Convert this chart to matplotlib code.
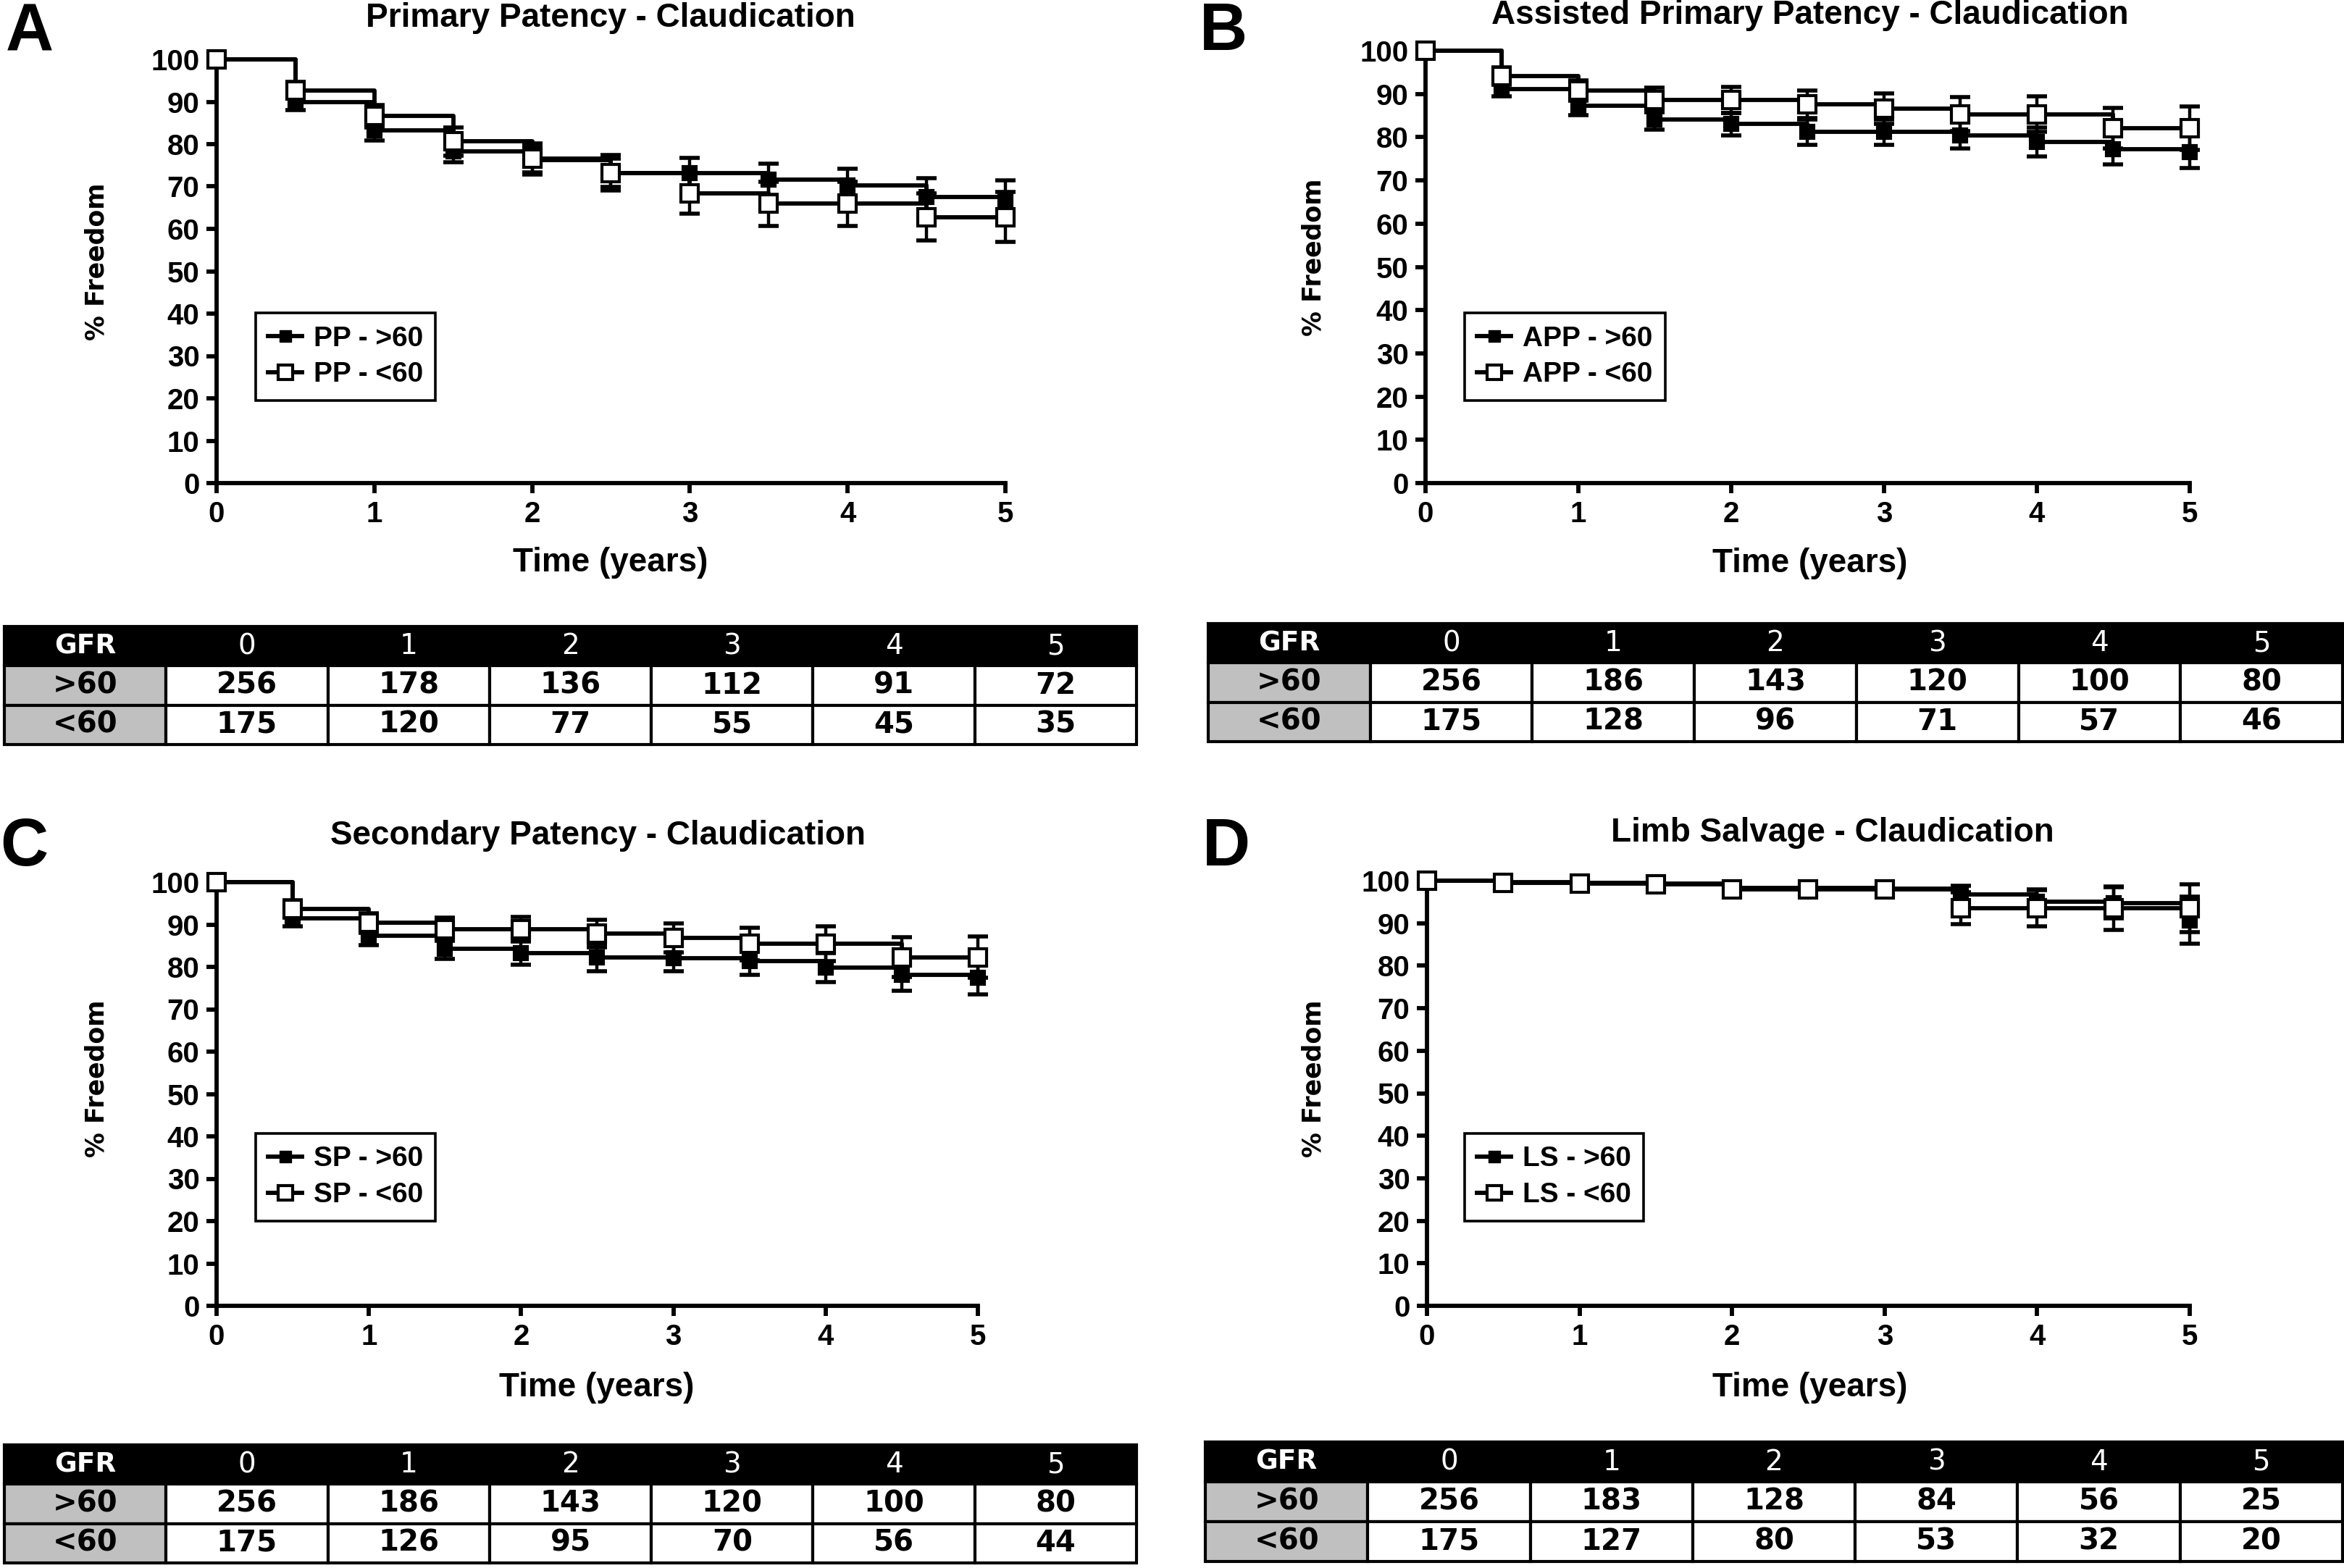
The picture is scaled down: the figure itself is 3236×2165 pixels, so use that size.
import numpy as np
import matplotlib.pyplot as plt
from matplotlib.lines import Line2D
from matplotlib.patches import Rectangle

# time points (years)
times = [0, 0.5, 1, 1.5, 2, 2.5, 3, 3.5, 4, 4.5, 5]

# A - primary patency
pp_hi = [100, 90.0, 83.2, 78.3, 76.3, 73.2, 73.1, 71.7, 70.2, 67.6, 66.8]
pp_hi_err = [0, 2.0, 2.3, 2.6, 3.0, 3.3, 3.6, 3.6, 4.0, 4.3, 4.6]
pp_lo = [100, 92.7, 86.6, 80.6, 76.5, 73.2, 68.4, 65.9, 65.9, 62.8, 62.8]
pp_lo_err = [0, 2.0, 2.7, 3.3, 3.7, 4.2, 4.8, 5.2, 5.2, 5.5, 5.9]

# B - assisted primary patency
app_hi = [100, 91.2, 87.2, 84.1, 83.0, 81.2, 81.2, 80.4, 78.9, 77.2, 76.6]
app_hi_err = [0, 1.8, 2.1, 2.4, 2.6, 2.9, 2.9, 3.0, 3.3, 3.5, 3.7]
app_lo = [100, 94.2, 90.8, 88.6, 88.6, 87.6, 86.6, 85.3, 85.3, 82.1, 82.1]
app_lo_err = [0, 2.0, 2.4, 2.8, 3.0, 3.2, 3.5, 3.9, 4.1, 4.7, 5.0]

# C - secondary patency
sp_hi = [100, 91.4, 87.3, 84.2, 83.3, 82.2, 82.1, 81.3, 79.8, 78.2, 77.5]
sp_hi_err = [0, 1.8, 2.1, 2.3, 2.8, 3.2, 3.1, 3.1, 3.4, 3.8, 4.0]
sp_lo = [100, 93.7, 90.4, 88.9, 88.9, 87.9, 86.8, 85.4, 85.4, 82.3, 82.3]
sp_lo_err = [0, 2.0, 2.3, 2.7, 2.9, 3.2, 3.4, 3.9, 4.1, 4.7, 4.9]

# D - limb salvage
ls_hi = [100, 99.7, 99.5, 99.4, 98.3, 98.3, 98.1, 96.8, 95.1, 94.8, 90.7]
ls_hi_err = [0, 0.4, 0.6, 0.7, 0.9, 1.0, 1.1, 2.0, 2.8, 3.7, 5.5]
ls_lo = [100, 99.5, 99.3, 99.2, 98.0, 98.0, 97.9, 93.5, 93.5, 93.5, 93.5]
ls_lo_err = [0, 0.5, 0.7, 0.8, 1.0, 1.1, 1.2, 3.7, 4.3, 5.1, 5.6]

# numbers at risk
table_years = ['0', '1', '2', '3', '4', '5']
risk_pp_hi = [256, 178, 136, 112, 91, 72]
risk_pp_lo = [175, 120, 77, 55, 45, 35]
risk_app_hi = [256, 186, 143, 120, 100, 80]
risk_app_lo = [175, 128, 96, 71, 57, 46]
risk_sp_hi = [256, 186, 143, 120, 100, 80]
risk_sp_lo = [175, 126, 95, 70, 56, 44]
risk_ls_hi = [256, 183, 128, 84, 56, 25]
risk_ls_lo = [175, 127, 80, 53, 32, 20]

W, H = 3237, 2165
ARIAL = ['Liberation Sans', 'DejaVu Sans']
VERD = ['DejaVu Sans']
LW = 4.2

fig = plt.figure(figsize=(W / 100, H / 100), dpi=100)


def px_rect(x0, y0, x1, y1):
    return [x0 / W, 1 - y1 / H, (x1 - x0) / W, (y1 - y0) / H]


def draw_km(rect, title, prefix, hi, hi_err, lo, lo_err, title_xy, letter, letter_xy,
            xlab_xy, ylab_xy, leg_xy):
    ax = fig.add_axes(px_rect(*rect))
    ax.set_xlim(0, 5)
    ax.set_ylim(0, 100)
    for s, e, face, ms in [(hi, hi_err, 'black', 13), (lo, lo_err, 'white', 17)]:
        ax.step(times, s, where='post', color='black', lw=LW, clip_on=False, zorder=3)
        ax.errorbar(times[1:], s[1:], yerr=e[1:], fmt='none', ecolor='black',
                    elinewidth=3.2, capsize=10, capthick=4, clip_on=False, zorder=3)
        ax.plot(times, s, ls='none', marker='s', ms=ms, mfc=face, mec='black',
                mew=3, clip_on=False, zorder=4)
    for sp in ['top', 'right']:
        ax.spines[sp].set_visible(False)
    for sp in ['left', 'bottom']:
        ax.spines[sp].set_linewidth(LW)
    ax.set_xticks(range(6))
    ax.set_yticks(range(0, 101, 10))
    ax.tick_params(length=10, width=LW, pad=7)
    for lab in ax.get_xticklabels() + ax.get_yticklabels():
        lab.set_family(ARIAL)
        lab.set_fontweight('bold')
        lab.set_fontsize(29)
    fig.text(title_xy[0] / W, 1 - title_xy[1] / H, title, ha='center', va='center',
             family=ARIAL, weight='bold', fontsize=33)
    fig.text(letter_xy[0] / W, 1 - letter_xy[1] / H, letter, ha='center', va='center',
             family=ARIAL, weight='bold', fontsize=66)
    fig.text(xlab_xy[0] / W, 1 - xlab_xy[1] / H, 'Time (years)', ha='center', va='center',
             family=ARIAL, weight='bold', fontsize=33)
    fig.text(ylab_xy[0] / W, 1 - ylab_xy[1] / H, '% Freedom', ha='center', va='center',
             rotation=90, family=VERD, weight='bold', fontsize=25)
    handles = [
        Line2D([], [], color='black', lw=LW, marker='s', ms=12, mfc='black', mec='black'),
        Line2D([], [], color='black', lw=LW, marker='s', ms=15, mfc='white', mec='black',
               mew=3),
    ]
    leg = ax.legend(handles, [prefix + ' - >60', prefix + ' - <60'], loc='upper left',
                    bbox_to_anchor=(leg_xy[0] / W, 1 - leg_xy[1] / H),
                    bbox_transform=fig.transFigure, fancybox=False, edgecolor='black',
                    framealpha=1, handlelength=1.2, handletextpad=0.4, borderpad=0.45,
                    borderaxespad=0, labelspacing=0.35,
                    prop={'family': ARIAL, 'weight': 'bold', 'size': 28})
    leg.get_frame().set_linewidth(2.6)
    return ax


def draw_table(rect, hi, lo):
    tax = fig.add_axes(px_rect(*rect))
    tax.set_xlim(0, 7)
    tax.set_ylim(0, 3)
    tax.axis('off')
    tax.add_patch(Rectangle((0, 2), 7, 1, fc='black', ec='black', lw=3, clip_on=False))
    tax.text(0.5, 2.5, 'GFR', ha='center', va='center', color='white',
             family=VERD, weight='bold', fontsize=27)
    for j, yr in enumerate(table_years):
        tax.text(j + 1.5, 2.5, yr, ha='center', va='center', color='white',
                 family=VERD, fontsize=28)
    for r, (lab, vals) in enumerate([('>60', hi), ('<60', lo)]):
        y = 1 - r
        tax.add_patch(Rectangle((0, y), 1, 1, fc='#c0c0c0', ec='black', lw=3, clip_on=False))
        tax.text(0.5, y + 0.5, lab, ha='center', va='center', family=VERD,
                 weight='bold', fontsize=29)
        for j, v in enumerate(vals):
            tax.add_patch(Rectangle((j + 1, y), 1, 1, fc='white', ec='black', lw=3,
                                    clip_on=False))
            tax.text(j + 1.5, y + 0.5, str(v), ha='center', va='center', family=VERD,
                     weight='bold', fontsize=29)


draw_km((299, 82, 1388, 667), 'Primary Patency - Claudication', 'PP',
        pp_hi, pp_hi_err, pp_lo, pp_lo_err, (843, 25), 'A', (41, 45),
        (843, 777), (134, 361), (353, 432))
draw_km((1968, 70, 3023, 667), 'Assisted Primary Patency - Claudication', 'APP',
        app_hi, app_hi_err, app_lo, app_lo_err, (2499, 21), 'B', (1689, 45),
        (2499, 778), (1813, 355), (2022, 432))
draw_km((299, 1218, 1350, 1803), 'Secondary Patency - Claudication', 'SP',
        sp_hi, sp_hi_err, sp_lo, sp_lo_err, (826, 1154), 'C', (33, 1171),
        (824, 1916), (134, 1489), (353, 1565))
draw_km((1970, 1216, 3023, 1803), 'Limb Salvage - Claudication', 'LS',
        ls_hi, ls_hi_err, ls_lo, ls_lo_err, (2530, 1150), 'D', (1693, 1171),
        (2499, 1916), (1813, 1489), (2022, 1565))

draw_table((6, 865, 1569, 1028), risk_pp_hi, risk_pp_lo)
draw_table((1668, 861, 3234, 1024), risk_app_hi, risk_app_lo)
draw_table((6, 1995, 1569, 2158), risk_sp_hi, risk_sp_lo)
draw_table((1664, 1991, 3234, 2156), risk_ls_hi, risk_ls_lo)

fig.savefig('out.png', dpi=100)
